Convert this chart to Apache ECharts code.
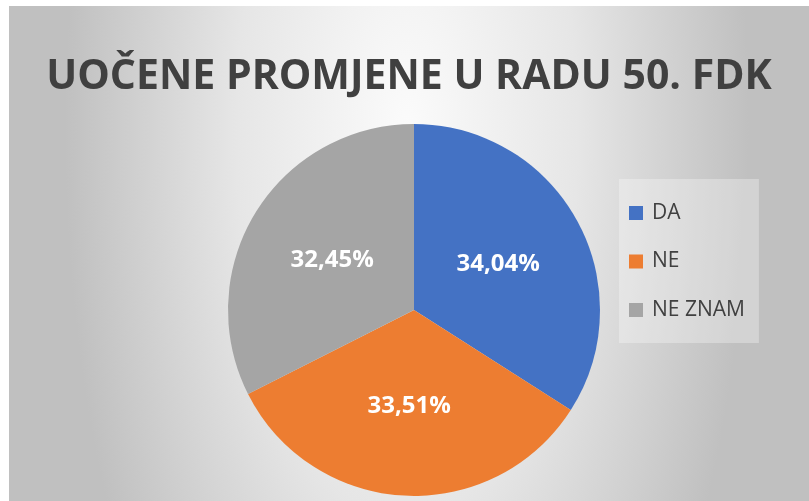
<!DOCTYPE html>
<html>
<head>
<meta charset="utf-8">
<script src="https://cdn.jsdelivr.net/npm/echarts@6/dist/echarts.min.js"></script>
<style>
  html, body { margin: 0; padding: 0; background: #ffffff; }
  #chart { position: absolute; left: 9px; top: 6px; width: 800px; height: 495px; }
</style>
</head>
<body>
<div id="chart"></div>
<script>
// chart data
const titleText = 'UOČENE PROMJENE U RADU 50. FDK';
const categories = ['DA', 'NE', 'NE ZNAM'];
const shares = [34.04, 33.51, 32.45];
const colors = ['#4472C4', '#ED7D31', '#A5A5A5'];

const chart = echarts.init(document.getElementById('chart'));

const option = {
    animation: false,
    backgroundColor: '#c0c0c0',
    color: colors,
    title: {
        text: titleText,
        left: 'center',
        top: 46,
        textStyle: {
            fontFamily: 'Open Sans',
            fontWeight: 700,
            fontSize: 41,
            color: '#404040'
        }
    },
    graphic: [{
        // soft elliptical light spot behind the pie
        type: 'circle',
        z: 0,
        silent: true,
        shape: { cx: 398, cy: 124, r: 342 },
        originX: 398,
        originY: 124,
        scaleY: 2.28,
        style: {
            fill: new echarts.graphic.RadialGradient(0.5, 0.5, 0.5, [
                { offset: 0, color: '#fbfbfb' },
                { offset: 0.5, color: '#e6e6e6' },
                { offset: 1, color: '#c0c0c0' }
            ])
        }
    }],
    legend: {
        orient: 'vertical',
        left: 610,
        top: 173,
        padding: [22, 14, 21, 10],
        itemGap: 24.5,
        itemWidth: 14,
        itemHeight: 14,
        icon: 'rect',
        backgroundColor: 'rgba(255,255,255,0.3)',
        textStyle: {
            fontFamily: 'Open Sans',
            fontSize: 21,
            lineHeight: 24,
            color: '#404040',
            padding: [0, 0, 0, 4]
        },
        data: categories
    },
    series: [{
        type: 'pie',
        center: [405, 304],
        radius: 186,
        startAngle: 90,
        clockwise: true,
        label: {
            position: 'inside',
            color: '#ffffff',
            fontFamily: 'Open Sans',
            fontWeight: 700,
            fontSize: 24,
            formatter: p => p.value.toFixed(2).replace('.', ',') + '%'
        },
        labelLine: { show: false },
        emphasis: { disabled: true },
        data: categories.map((c, i) => ({ name: c, value: shares[i] }))
    }]
};

chart.setOption(option);
</script>
</body>
</html>
